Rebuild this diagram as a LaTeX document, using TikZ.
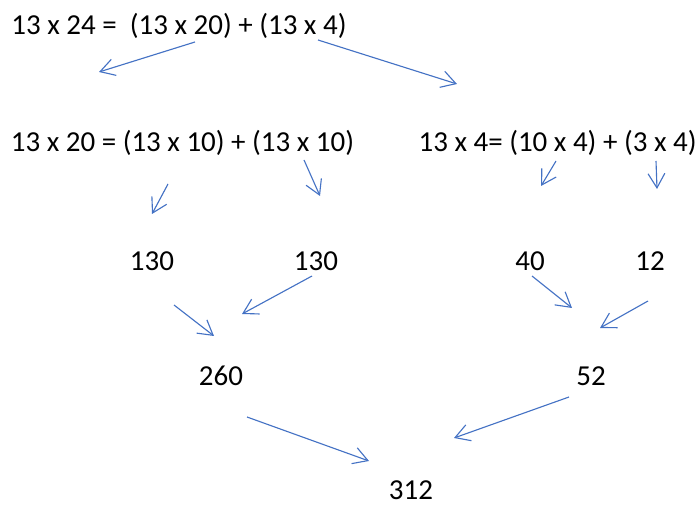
\documentclass[tikz,border=0pt]{standalone}
\usepackage{fontspec}
\setmainfont{Carlito}
\usetikzlibrary{arrows.meta}
\definecolor{arrowblue}{HTML}{4472C4}
\tikzset{
  sum/.style={anchor=base, inner sep=0pt, font=\fontsize{20.6pt}{25pt}\selectfont},
  arr/.style={draw=arrowblue, line width=0.8pt, -{Straight Barb[length=0.36cm, width=0.42cm, line width=0.8pt]}}
}
\begin{document}
\begin{tikzpicture}
    \useasboundingbox (0,0) rectangle (17.5,12.675);
    % sums and products
    \node[sum] (top) at (4.475,11.81) {13 x 24 =\ \ (13 x 20) + (13 x 4)};
    \node[sum] (left) at (4.5625,8.88) {13 x 20 = (13 x 10) + (13 x 10)};
    \node[sum] (right) at (13.94,8.88) {13 x 4= (10 x 4) + (3 x 4)};
    \node[sum] (onethirtya) at (3.8,5.92) {130};
    \node[sum] (onethirtyb) at (7.9,5.92) {130};
    \node[sum] (forty) at (13.25,5.92) {40};
    \node[sum] (twelve) at (16.25,5.92) {12};
    \node[sum] (twosixty) at (5.525,3.03) {260};
    \node[sum] (fiftytwo) at (14.775,3.03) {52};
    \node[sum] (total) at (10.275,0.2) {312};

    % arrow ends
    \coordinate (a1s) at (4.875,11.625);  \coordinate (a1e) at (2.475,10.875);
    \coordinate (a2s) at (7.95,11.675);   \coordinate (a2e) at (11.425,10.575);
    \coordinate (a3s) at (4.2,8.075);     \coordinate (a3e) at (3.8,7.325);
    \coordinate (a4s) at (7.6,8.675);     \coordinate (a4e) at (8.0,7.775);
    \coordinate (a5s) at (13.9,8.65);     \coordinate (a5e) at (13.525,8.025);
    \coordinate (a6s) at (16.4,8.65);     \coordinate (a6e) at (16.425,7.95);
    \coordinate (a7s) at (4.35,5.05);     \coordinate (a7e) at (5.35,4.275);
    \coordinate (a8s) at (7.8,5.775);     \coordinate (a8e) at (6.05,4.825);
    \coordinate (a9s) at (13.3,5.775);    \coordinate (a9e) at (14.3,4.975);
    \coordinate (a10s) at (16.2,5.15);    \coordinate (a10e) at (15.0,4.475);
    \coordinate (a11s) at (6.175,2.25);   \coordinate (a11e) at (9.225,1.15);
    \coordinate (a12s) at (14.225,2.75);  \coordinate (a12e) at (11.35,1.725);

    \foreach \i in {1,...,12} {
        \draw[arr] (a\i s) -- (a\i e);
    }
\end{tikzpicture}
\end{document}
